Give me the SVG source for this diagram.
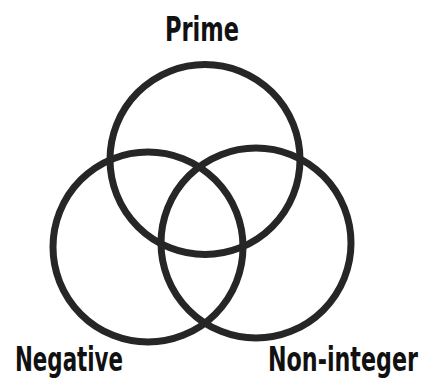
<svg xmlns="http://www.w3.org/2000/svg" width="425" height="385" viewBox="0 0 425 385">
<style>
.c{fill:none;stroke:#262626;stroke-width:7}
.t{font-family:"DejaVu Sans Condensed","DejaVu Sans",sans-serif;font-stretch:condensed;font-weight:bold;font-size:33px;fill:#111}
</style>
<rect width="425" height="385" fill="#fff"/>
<g id="prime"><circle class="c" cx="205" cy="159.5" r="95"/><text class="t" transform="translate(165,41) scale(0.75,1)" textLength="98.7" lengthAdjust="spacingAndGlyphs">Prime</text></g>
<g id="negative"><circle class="c" cx="148" cy="247" r="95"/><text class="t" transform="translate(15,371) scale(0.72,1)" textLength="150" lengthAdjust="spacingAndGlyphs">Negative</text></g>
<g id="noninteger"><circle class="c" cx="256" cy="243" r="95"/><text class="t" transform="translate(268,371) scale(0.75,1)" textLength="200" lengthAdjust="spacingAndGlyphs">Non-integer</text></g>
<g id="connectors"/>
</svg>
